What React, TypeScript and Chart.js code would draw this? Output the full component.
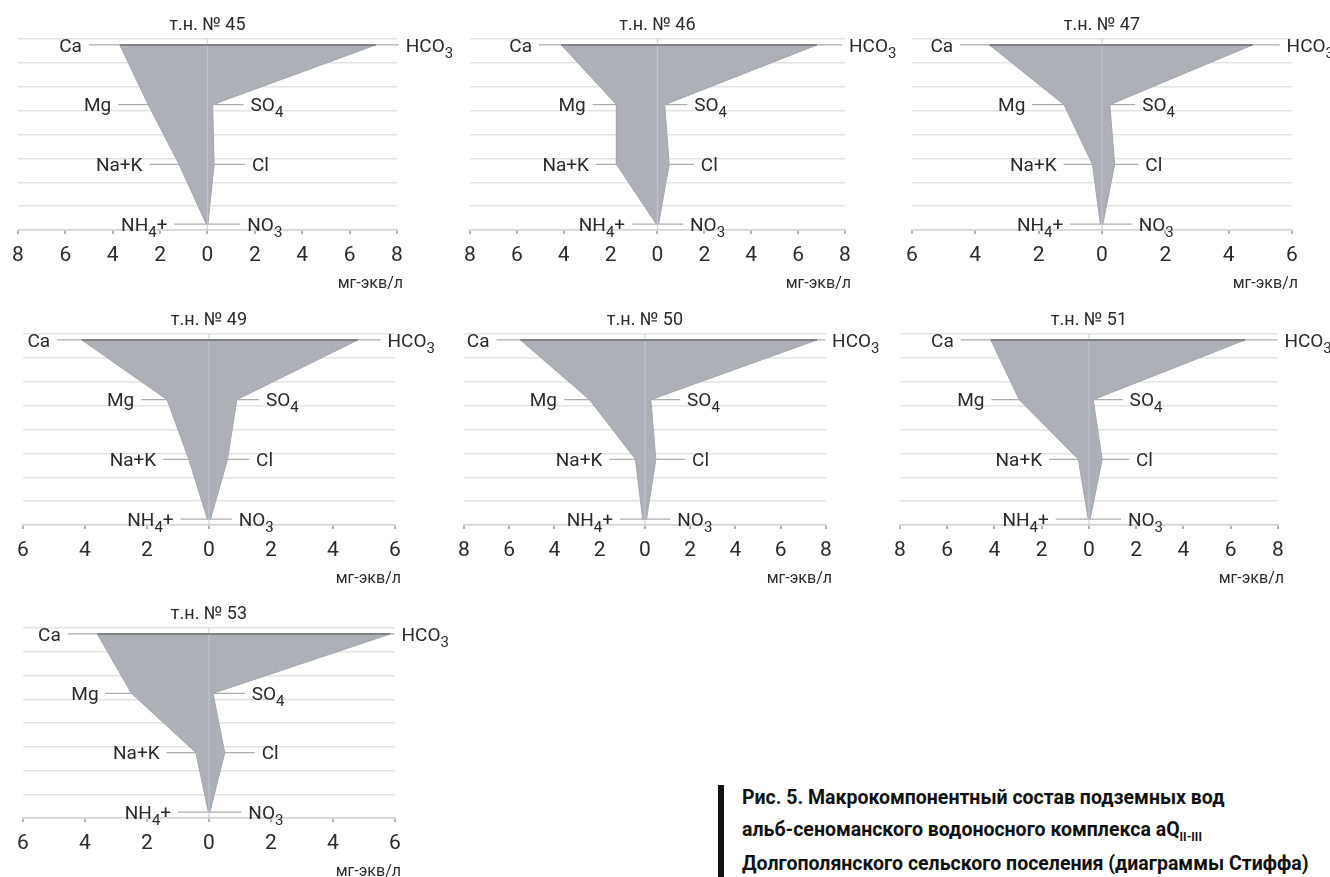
import React, { useEffect, useRef } from "react";
import { Chart, registerables } from "chart.js";

Chart.register(...registerables);

// ---------------- data ----------------
const WELLS = ["45", "46", "47", "49", "50", "51", "53"];
const TITLE_PREFIX = "т.н. № ";
const UNITS = "мг-экв/л";
const CATIONS = ["Ca", "Mg", "Na+K", "NH{4}+"];
const ANIONS = ["HCO{3}", "SO{4}", "Cl", "NO{3}"];

// cations, mg-eq/l (left side)
const CA = [3.7, 4.1, 3.55, 4.1, 5.5, 4.15, 3.6];
const MG = [2.5, 1.75, 1.2, 1.35, 2.45, 2.95, 2.5];
const NAK = [1.2, 1.75, 0.3, 0.65, 0.42, 0.45, 0.42];
const NH4 = [0.05, 0.05, 0.05, 0.05, 0.1, 0.03, 0.02];
// anions, mg-eq/l (right side)
const HCO3 = [7.1, 6.8, 4.75, 4.8, 7.6, 6.6, 5.85];
const SO4 = [0.22, 0.31, 0.25, 0.9, 0.26, 0.18, 0.13];
const CL = [0.28, 0.5, 0.4, 0.6, 0.48, 0.56, 0.51];
const NO3 = [0.02, 0.05, 0.03, 0.05, 0.07, 0.05, 0.03];

// axis extents
const AXIS_MAX = [8, 8, 6, 6, 8, 8, 6];
const X_TICK_STEP = 2;
const GRID_MAX = 8;
const LEVEL_Y = [7.75, 5.25, 2.75, 0.25];

const CAPTION_1 = "Рис. 5. Макрокомпонентный состав подземных вод";
const CAPTION_2 = "альб-сеноманского водоносного комплекса aQ";
const CAPTION_2_SUB = "II-III";
const CAPTION_3 = "Долгополянского сельского поселения (диаграммы Стиффа)";

// ---------------- layout (pixels / label anchors) ----------------
const PANEL_BOX = [
  { x0: 13, x1: 397, top: 39, bottom: 230 },
  { x0: 465, x1: 845, top: 39, bottom: 230 },
  { x0: 907, x1: 1292, top: 39, bottom: 230 },
  { x0: 18, x1: 395, top: 334, bottom: 525 },
  { x0: 459, x1: 826, top: 334, bottom: 525 },
  { x0: 895, x1: 1278, top: 334, bottom: 525 },
  { x0: 18, x1: 395, top: 628, bottom: 818 },
];
const LABEL_LEFT = [
  [-5.3, -4.06, -2.74, -1.69],
  [-5.35, -3.06, -2.92, -1.38],
  [-4.7, -2.42, -1.43, -1.22],
  [-5.12, -2.41, -1.7, -1.14],
  [-6.87, -3.89, -1.88, -1.41],
  [-5.72, -4.42, -1.98, -1.7],
  [-4.78, -3.56, -1.59, -1.22],
];
const LABEL_RIGHT = [
  [8.37, 1.82, 1.88, 1.68],
  [8.17, 1.57, 1.85, 1.39],
  [5.83, 1.27, 1.37, 1.16],
  [5.76, 1.84, 1.52, 0.96],
  [8.27, 1.86, 2.08, 1.43],
  [8.27, 1.72, 1.99, 1.65],
  [6.21, 1.38, 1.7, 1.27],
];

const PADL = 10;
const PADR = 55;
const PADT = 40;
const PADB = 72;
const AXH = 40;
const FONT = "Roboto";
const TEXT = "#2a2a2a";

type Seg = { t: string; sub: boolean };
function parseRich(s: string): Seg[] {
  const out: Seg[] = [];
  const re = /\{([^}]*)\}|([^{]+)/g;
  let m: RegExpExecArray | null;
  while ((m = re.exec(s))) {
    if (m[1] !== undefined) out.push({ t: m[1], sub: true });
    else out.push({ t: m[2], sub: false });
  }
  return out;
}

function drawRich(
  ctx: CanvasRenderingContext2D,
  s: string,
  x: number,
  y: number,
  align: "left" | "right" | "center",
  size: number
) {
  const segs = parseRich(s);
  const subSize = Math.round(size * 0.78);
  const widths = segs.map((sg) => {
    ctx.font = `${sg.sub ? subSize : size}px ${FONT}`;
    return ctx.measureText(sg.t).width;
  });
  const total = widths.reduce((a, b) => a + b, 0);
  let cx = align === "right" ? x - total : align === "center" ? x - total / 2 : x;
  const base = y + size * 0.355;
  ctx.fillStyle = TEXT;
  ctx.textAlign = "left";
  ctx.textBaseline = "alphabetic";
  segs.forEach((sg, i) => {
    ctx.font = `${sg.sub ? subSize : size}px ${FONT}`;
    ctx.fillText(sg.t, cx, sg.sub ? base + size * 0.32 : base);
    cx += widths[i];
  });
}

function StiffPanel({ index }: { index: number }) {
  const ref = useRef<HTMLCanvasElement | null>(null);
  const box = PANEL_BOX[index];
  const width = box.x1 - box.x0 + PADL + PADR;
  const height = box.bottom - box.top + PADT + PADB;

  useEffect(() => {
    if (!ref.current) return;
    const R = AXIS_MAX[index];
    const cations = [CA[index], MG[index], NAK[index], NH4[index]];
    const anions = [HCO3[index], SO4[index], CL[index], NO3[index]];
    const pxPerUnit = (box.x1 - box.x0) / (2 * R);
    const gap = 7 / pxPerUnit;

    const poly = [
      ...cations.map((v, i) => ({ x: -v, y: LEVEL_Y[i] })),
      ...anions.map((v, i) => ({ x: v, y: LEVEL_Y[i] })).reverse(),
    ];
    poly.push({ ...poly[0] });

    const base = { showLine: true, pointRadius: 0, tension: 0, fill: false } as any;
    const datasets: any[] = [];
    LEVEL_Y.forEach((y, i) => {
      datasets.push({
        ...base,
        data: [
          { x: LABEL_LEFT[index][i] + gap, y },
          { x: LABEL_RIGHT[index][i] - gap, y },
        ],
        borderColor: "#adadad",
        borderWidth: 1.3,
        clip: false,
        order: 6,
      });
    });
    datasets.push({
      ...base,
      data: poly,
      fill: "shape",
      backgroundColor: "#adb0b6",
      borderColor: "#a3a6ab",
      borderWidth: 1,
      order: 3,
    });
    datasets.push({
      ...base,
      data: [
        { x: 0, y: 0 },
        { x: 0, y: GRID_MAX },
      ],
      borderColor: "rgba(196,202,212,0.75)",
      borderWidth: 1.3,
      order: 2,
    });
    datasets.push({
      ...base,
      data: [
        { x: -cations[0], y: LEVEL_Y[0] },
        { x: anions[0], y: LEVEL_Y[0] },
      ],
      borderColor: "#737373",
      borderWidth: 1.6,
      order: 1,
    });

    const textPlugin = {
      id: "stiffText" + index,
      afterDatasetsDraw(chart: any) {
        const { ctx, chartArea, scales } = chart;
        const xs = scales.x;
        const ys = scales.y;
        ctx.save();
        drawRich(ctx, TITLE_PREFIX + WELLS[index], xs.getPixelForValue(0), chartArea.top - 15, "center", 18);
        LEVEL_Y.forEach((lv, i) => {
          const py = ys.getPixelForValue(lv);
          drawRich(ctx, CATIONS[i], xs.getPixelForValue(LABEL_LEFT[index][i]), py, "right", 19);
          drawRich(ctx, ANIONS[i], xs.getPixelForValue(LABEL_RIGHT[index][i]), py, "left", 19);
        });
        drawRich(ctx, UNITS, chartArea.right + 6, chartArea.bottom + 52, "right", 16);
        ctx.restore();
      },
    };

    const chart = new Chart(ref.current, {
      type: "scatter",
      data: { datasets },
      options: {
        animation: false,
        responsive: false,
        maintainAspectRatio: false,
        events: [],
        layout: { padding: { left: PADL, right: PADR, top: PADT, bottom: PADB - AXH } },
        plugins: {
          legend: { display: false },
          tooltip: { enabled: false },
          title: { display: false },
        },
        scales: {
          x: {
            type: "linear",
            position: "bottom",
            min: -R,
            max: R,
            ticks: {
              stepSize: X_TICK_STEP,
              callback: (v: any) => String(Math.abs(Number(v))),
              font: { family: FONT, size: 21, lineHeight: 1.2 },
              color: TEXT,
              padding: 9,
              maxRotation: 0,
              autoSkip: false,
            },
            grid: {
              drawOnChartArea: false,
              drawTicks: true,
              tickLength: 4,
              color: "#b3b3b3",
              lineWidth: 2,
            },
            border: { display: true, color: "#d4d4d4", width: 1.5 },
            afterFit: (s: any) => {
              s.height = AXH;
            },
          },
          y: {
            type: "linear",
            min: 0,
            max: GRID_MAX,
            ticks: { display: false, stepSize: 1 },
            grid: { color: "#e3e3e3", lineWidth: 1.5, drawTicks: false },
            border: { display: false },
            afterFit: (s: any) => {
              s.width = 0;
            },
          },
        },
      } as any,
      plugins: [textPlugin],
    });
    return () => chart.destroy();
  }, [index]);

  return (
    <canvas
      ref={ref}
      width={width}
      height={height}
      style={{
        position: "absolute",
        left: box.x0 - PADL,
        top: box.top - PADT,
        width,
        height,
      }}
    />
  );
}

export default function App() {
  return (
    <div
      style={{
        position: "absolute",
        left: 0,
        top: 0,
        width: 1330,
        height: 877,
        background: "#ffffff",
        overflow: "hidden",
      }}
    >
      {WELLS.map((_, i) => (
        <StiffPanel key={i} index={i} />
      ))}
      <div
        style={{
          position: "absolute",
          left: 718,
          top: 785,
          width: 6,
          height: 92,
          background: "#111",
        }}
      />
      <div
        style={{
          position: "absolute",
          left: 742,
          top: 782,
          font: `700 19.5px ${FONT}`,
          lineHeight: "32px",
          color: "#111",
          whiteSpace: "nowrap",
        }}
      >
        <div>{CAPTION_1}</div>
        <div>
          {CAPTION_2}
          <span style={{ fontSize: 12, position: "relative", top: 5 }}>{CAPTION_2_SUB}</span>
        </div>
        <div>{CAPTION_3}</div>
      </div>
    </div>
  );
}
